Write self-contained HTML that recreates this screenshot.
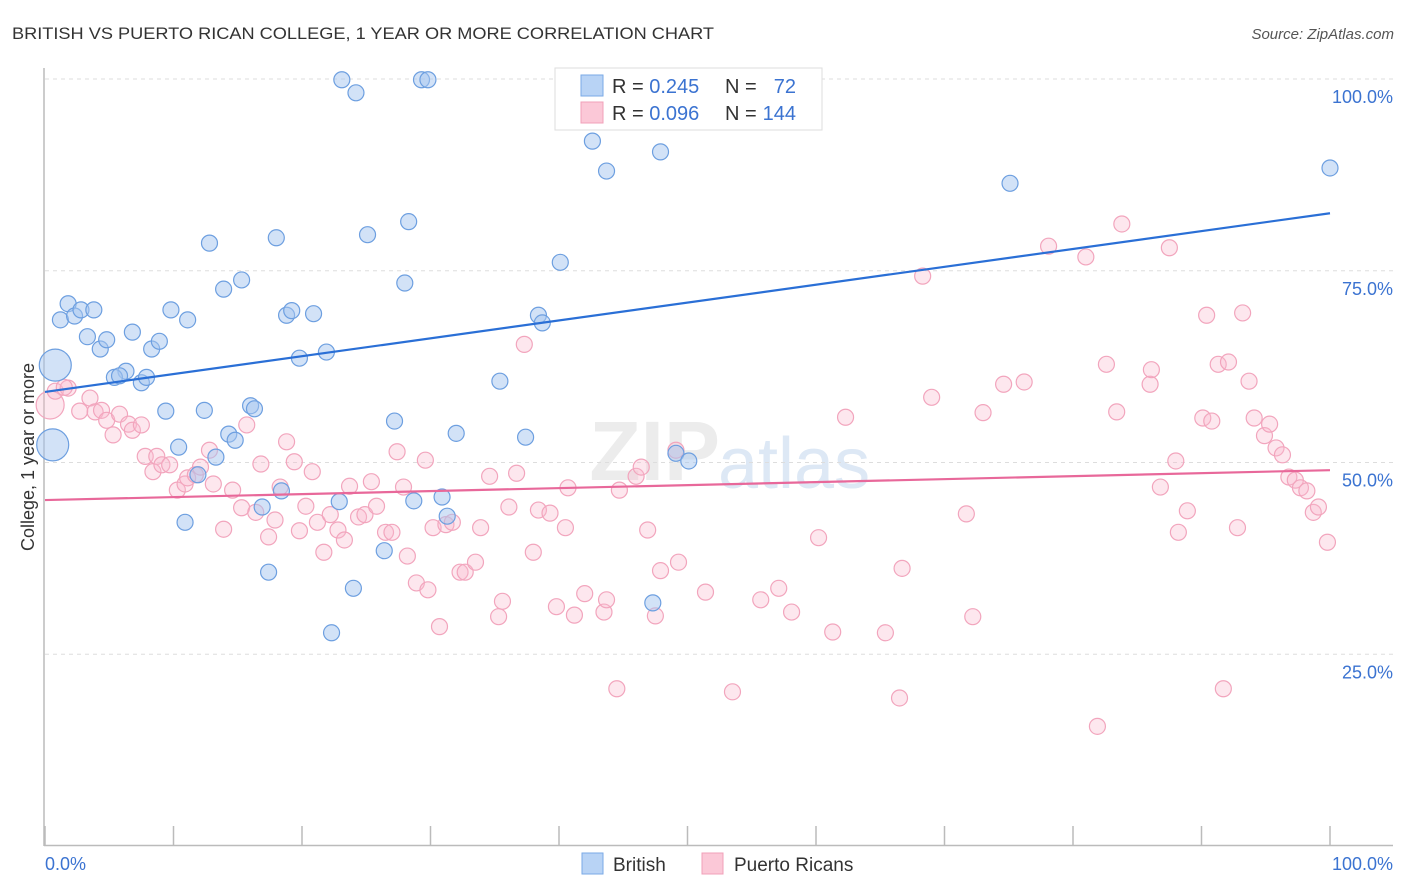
<!DOCTYPE html>
<html><head><meta charset="utf-8"><style>
body{margin:0;background:#fff;font-family:"Liberation Sans",sans-serif;}
#wrap{position:relative;width:1406px;height:892px;overflow:hidden;}
svg text{font-family:"Liberation Sans",sans-serif;}
</style></head><body>
<div id="wrap">
<svg id="svg" width="1406" height="892">
<text x="12" y="39" font-size="17" fill="#333" textLength="702" lengthAdjust="spacingAndGlyphs">BRITISH VS PUERTO RICAN COLLEGE, 1 YEAR OR MORE CORRELATION CHART</text>
<text x="1394" y="39" font-size="15" fill="#555" text-anchor="end" font-style="italic">Source: ZipAtlas.com</text>
<text x="720" y="480" font-size="84" fill="#ececec" text-anchor="end" font-weight="bold">ZIP</text>
<text x="718" y="488" font-size="72" fill="#dde8f5">atlas</text>
<g id="grid"></g>
<text transform="translate(34,457) rotate(-90)" font-size="18" fill="#333" text-anchor="middle">College, 1 year or more</text>
<g id="marks"></g>
<g id="lines"></g>
<g>
<rect x="555" y="68" width="267" height="62" fill="#fff" stroke="#ddd"/>
<rect x="581" y="75" width="22" height="21" fill="#b8d3f5" stroke="#7aa9e6"/>
<rect x="581" y="102" width="22" height="21" fill="#fbc8d7" stroke="#f0a0b8"/>
<text x="612" y="93" font-size="20" fill="#333">R = <tspan fill="#3b73d1">0.245</tspan></text>
<text x="725" y="93" font-size="20" fill="#333">N = </text><text x="796" y="93" font-size="20" fill="#3b73d1" text-anchor="end">72</text>
<text x="612" y="120" font-size="20" fill="#333">R = <tspan fill="#3b73d1">0.096</tspan></text>
<text x="725" y="120" font-size="20" fill="#333">N = </text><text x="796" y="120" font-size="20" fill="#3b73d1" text-anchor="end">144</text>
</g>
<g>
<rect x="582" y="853" width="21" height="21" fill="#b8d3f5" stroke="#7aa9e6"/>
<text x="613" y="871" font-size="19" fill="#333">British</text>
<rect x="702" y="853" width="21" height="21" fill="#fbc8d7" stroke="#f0a0b8"/>
<text x="734" y="871" font-size="19" fill="#333">Puerto Ricans</text>
</g>
</svg></div>
<script>
const yTicks=[100,75,50,25];
const yTickLabels=["100.0%","75.0%","50.0%","25.0%"];
const xTicks=[0,10,20,30,40,50,60,70,80,90,100];
const britishX=[23.1,24.2,29.3,29.8,51.9,42.6,43.7,47.9,75.1,100,12.8,18.0,25.1,28.3,40.1,15.3,13.9,28.0,1.8,1.2,2.3,2.8,3.8,3.3,4.3,4.8,6.8,8.3,8.9,9.8,11.1,18.8,19.2,20.9,19.8,21.9,38.4,38.7,35.4,6.3,5.4,5.8,7.5,7.9,0.8,0.6,9.4,12.4,16.0,16.3,27.2,32.0,37.4,14.3,14.8,10.4,13.3,11.9,49.1,50.1,18.4,22.9,28.7,30.9,31.3,16.9,10.9,17.4,26.4,24.0,47.3,22.3];
const britishY=[99.9,98.2,99.9,99.9,99.9,91.9,88.0,90.5,86.4,88.4,78.6,79.3,79.7,81.4,76.1,73.8,72.6,73.4,70.7,68.6,69.1,69.9,69.9,66.4,64.8,66.0,67.0,64.8,65.8,69.9,68.6,69.2,69.8,69.4,63.6,64.4,69.2,68.2,60.6,61.9,61.1,61.3,60.4,61.1,62.7,52.3,56.7,56.8,57.4,57.0,55.4,53.8,53.3,53.7,52.9,52.0,50.7,48.4,51.2,50.2,46.3,44.9,45.0,45.5,43.0,44.2,42.2,35.7,38.5,33.6,31.7,27.8];
const britishBig=[44,45];
const prX=[0.4,0.8,1.8,1.5,3.5,2.7,3.9,4.4,4.8,5.8,5.3,6.5,6.8,7.5,7.8,8.7,8.4,9.1,9.7,10.3,10.9,11.1,11.7,12.1,12.8,13.1,13.9,14.6,15.3,15.7,16.4,16.8,17.4,17.9,18.3,18.8,19.4,19.8,20.3,20.8,21.2,21.7,22.2,22.8,23.3,23.7,24.4,24.9,25.4,25.8,26.5,27.0,27.4,27.9,28.2,28.9,29.6,29.8,30.2,30.7,31.2,31.7,32.3,32.7,33.5,33.9,34.6,35.3,35.6,36.1,36.7,37.3,38.0,38.4,39.3,39.8,40.5,40.7,41.2,42.0,43.5,43.7,44.5,44.7,46.0,46.4,46.9,47.5,47.9,49.1,49.3,51.4,53.5,55.7,57.1,58.1,60.2,61.3,62.3,65.4,66.5,66.7,68.3,69.0,71.7,72.2,73.0,74.6,76.2,78.1,81.0,81.9,82.6,83.4,83.8,86.0,86.1,86.8,87.5,88.0,88.2,88.9,90.1,90.4,90.8,91.3,91.7,92.1,92.8,93.2,93.7,94.1,94.9,95.3,95.8,96.3,96.8,97.3,97.7,98.2,98.7,99.1,99.8];
const prY=[57.5,59.3,59.7,59.8,58.4,56.7,56.6,56.8,55.5,56.3,53.6,55.0,54.2,54.9,50.8,50.8,48.8,49.7,49.7,46.4,47.2,48.0,48.4,49.4,51.6,47.2,41.3,46.4,44.1,54.9,43.5,49.8,40.3,42.5,46.8,52.7,50.1,41.1,44.3,48.8,42.2,38.3,43.2,41.2,39.9,46.9,42.9,43.2,47.5,44.3,40.9,40.9,51.4,46.8,37.8,34.3,50.3,33.4,41.5,28.6,41.9,42.2,35.7,35.7,37.0,41.5,48.2,29.9,31.9,44.2,48.6,65.4,38.3,43.8,43.4,31.2,41.5,46.7,30.1,32.9,30.5,32.1,20.5,46.4,48.2,49.4,41.2,30.0,35.9,51.6,37.0,33.1,20.1,32.1,33.6,30.5,40.2,27.9,55.9,27.8,19.3,36.2,74.3,58.5,43.3,29.9,56.5,60.2,60.5,78.2,76.8,15.6,62.8,56.6,81.1,60.2,62.1,46.8,78.0,50.2,40.9,43.7,55.8,69.2,55.4,62.8,20.5,63.1,41.5,69.5,60.6,55.8,53.5,55.0,51.9,51.0,48.1,47.7,46.7,46.3,43.5,44.2,39.6];
const prBig=[0];
const britishTrend=[59.2,82.5];
const prTrend=[45.1,49.0];
const sx=v=>45+v*12.85;
const sy=v=>846-v*7.67;
const NS="http://www.w3.org/2000/svg";
function mk(tag,attrs,parent){const e=document.createElementNS(NS,tag);for(const k in attrs)e.setAttribute(k,attrs[k]);parent.appendChild(e);return e;}
const grid=document.getElementById('grid');
yTicks.forEach((t,i)=>{
 const l=mk('line',{x1:45,x2:1393,y1:sy(t),y2:sy(t),stroke:'#ddd','stroke-dasharray':'4,4'},grid);
 
 
 const tx=mk('text',{x:1393,y:sy(t)+24,'font-size':18,fill:'#3b73d1','text-anchor':'end'},grid);
 tx.textContent=yTickLabels[i];
 
 
});
const ax=mk('line',{x1:44,x2:44,y1:68,y2:846,stroke:'#bbb','stroke-width':1.5},grid);


const bx=mk('line',{x1:44,x2:1393,y1:845.5,y2:845.5,stroke:'#bbb','stroke-width':1.5},grid);


xTicks.forEach(t=>{
 const l=mk('line',{x1:sx(t),x2:sx(t),y1:826,y2:846,stroke:'#bbb','stroke-width':1.5},grid);
 
 
});
const x0=mk('text',{x:45,y:870,'font-size':18,fill:'#3b73d1'},grid);x0.textContent="0.0%";


const x1=mk('text',{x:1393,y:870,'font-size':18,fill:'#3b73d1','text-anchor':'end'},grid);x1.textContent="100.0%";


const marks=document.getElementById('marks');
prX.forEach((v,i)=>{
 const c=mk('circle',{cx:sx(v),cy:sy(prY[i]),r:prBig.includes(i)?14:8,fill:'rgba(248,185,205,0.35)',stroke:'#f2a5bd','stroke-width':1.2},marks);
 
 
});
britishX.forEach((v,i)=>{
 const c=mk('circle',{cx:sx(v),cy:sy(britishY[i]),r:britishBig.includes(i)?16:8,fill:'rgba(165,198,240,0.5)',stroke:'#6d9fe0','stroke-width':1.2},marks);
 
 
});
const lines=document.getElementById('lines');
const bl=mk('line',{x1:sx(0),y1:sy(britishTrend[0]),x2:sx(100),y2:sy(britishTrend[1]),stroke:'#2a6fd6','stroke-width':2.2},lines);


const pl=mk('line',{x1:sx(0),y1:sy(prTrend[0]),x2:sx(100),y2:sy(prTrend[1]),stroke:'#e8689a','stroke-width':2.2},lines);


</script>
</body></html>
